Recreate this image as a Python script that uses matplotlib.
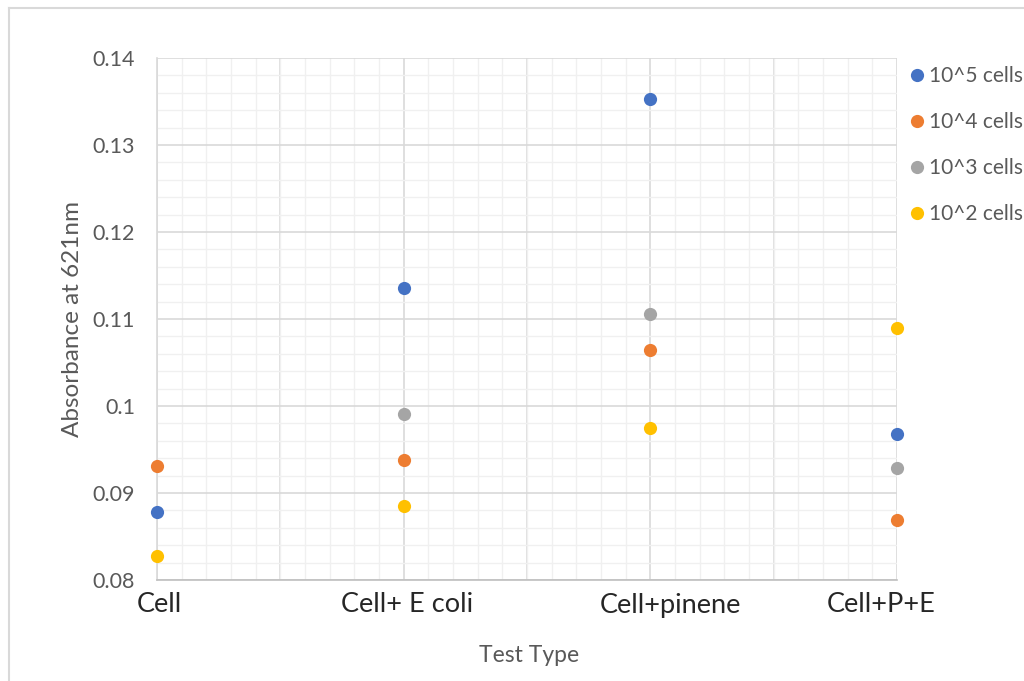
import matplotlib
matplotlib.use("Agg")
import matplotlib.pyplot as plt
from matplotlib.lines import Line2D
from matplotlib.ticker import MultipleLocator, FixedLocator, FixedFormatter, NullFormatter
import matplotlib.transforms as mtransforms

plt.rcParams['font.family'] = ['Lato', 'DejaVu Sans']

categories = ["Cell", "Cell+ E coli", "Cell+pinene", "Cell+P+E"]
x_pos = [1, 2, 3, 4]
series_names = ["10^5 cells", "10^4 cells", "10^3 cells", "10^2 cells"]
vals_1e5 = [0.0878, 0.1136, 0.1353, 0.0968]
vals_1e4 = [0.0931, 0.0938, 0.1064, 0.0869]
vals_1e3 = [None, 0.0991, 0.1106, 0.0929]
vals_1e2 = [0.0828, 0.0885, 0.0975, 0.1090]
colors = ["#4472C4", "#ED7D31", "#A5A5A5", "#FFC000"]
# horizontal offsets of the category labels (as drawn in the source chart)
label_shift = [0.008, 0.013, 0.08, -0.065]

fig = plt.figure(figsize=(10.24, 6.81), dpi=100)
ax = fig.add_axes([157/1024, 1-580/681, (897-157)/1024, (580-58)/681])

for name, vals, c in zip(series_names, [vals_1e5, vals_1e4, vals_1e3, vals_1e2], colors):
    xs = [x for x, v in zip(x_pos, vals) if v is not None]
    ys = [v for v in vals if v is not None]
    ax.plot(xs, ys, linestyle='none', marker='o', markersize=9.5, color=c,
            markeredgewidth=0, label=name, clip_on=False, zorder=5)

ax.set_xlim(1, 4)
ax.set_ylim(0.08, 0.14)
ax.xaxis.set_minor_locator(MultipleLocator(0.1))
ax.yaxis.set_minor_locator(MultipleLocator(0.002))
ax.grid(which='major', color='#d9d9d9', linewidth=1.2)
ax.grid(which='minor', color='#f0f0f0', linewidth=1.0)
ax.set_axisbelow(True)

ax.set_xticks(x_pos)
ax.xaxis.set_major_formatter(NullFormatter())
ax.tick_params(axis='both', which='both', length=0)
ax.tick_params(axis='y', pad=15.8)
ytick_vals = [0.08, 0.09, 0.10, 0.11, 0.12, 0.13, 0.14]
ytick_labels = ["0.08", "0.09", "0.1", "0.11", "0.12", "0.13", "0.14"]
ax.yaxis.set_major_locator(FixedLocator(ytick_vals))
ax.yaxis.set_major_formatter(FixedFormatter(ytick_labels))
for t in ax.get_yticklabels():
    t.set_fontsize(15.5)
    t.set_color('#595959')

# category labels below the axis
trans = mtransforms.blended_transform_factory(ax.transData, ax.transAxes)
offset = mtransforms.ScaledTranslation(0, -25/100, fig.dpi_scale_trans)
for xv, lab, sh in zip(x_pos, categories, label_shift):
    ax.text(xv + sh, 0, lab, transform=trans + offset, ha='center', va='center',
            fontsize=19.5, color='#262626', clip_on=False)

# major x gridlines at half positions between categories
for xv in [1.5, 2.5, 3.5]:
    ax.axvline(xv, color='#d9d9d9', linewidth=1.2, zorder=0.5)

for s in ['top', 'right']:
    ax.spines[s].set_visible(False)
ax.spines['left'].set_color('#d9d9d9')
ax.spines['bottom'].set_color('#bfbfbf')
ax.spines['left'].set_linewidth(1.2)
ax.spines['bottom'].set_linewidth(1.2)

fig.text(529/1024, 1-655/681, "Test Type", fontsize=16.5, color='#595959',
         ha='center', va='center')
ax.set_ylabel("Absorbance at 621nm", fontsize=17.5, color='#595959', labelpad=7)

leg = ax.legend(loc='upper left', bbox_to_anchor=(910/1024, 1-66/681),
                bbox_transform=fig.transFigure, frameon=False, fontsize=15,
                labelcolor='#595959', handletextpad=0.25, handlelength=0.65,
                labelspacing=1.25, borderaxespad=0, borderpad=0)
for h in leg.legend_handles:
    h.set_markersize(9.5)

# chart area border (top and left visible)
fig.add_artist(Line2D([9/1024, 9/1024], [0, 1-8/681], transform=fig.transFigure,
                      color='#d9d9d9', linewidth=1.5))
fig.add_artist(Line2D([9/1024, 1], [1-8/681, 1-8/681], transform=fig.transFigure,
                      color='#d9d9d9', linewidth=1.5))

fig.savefig("out.png", dpi=100)
